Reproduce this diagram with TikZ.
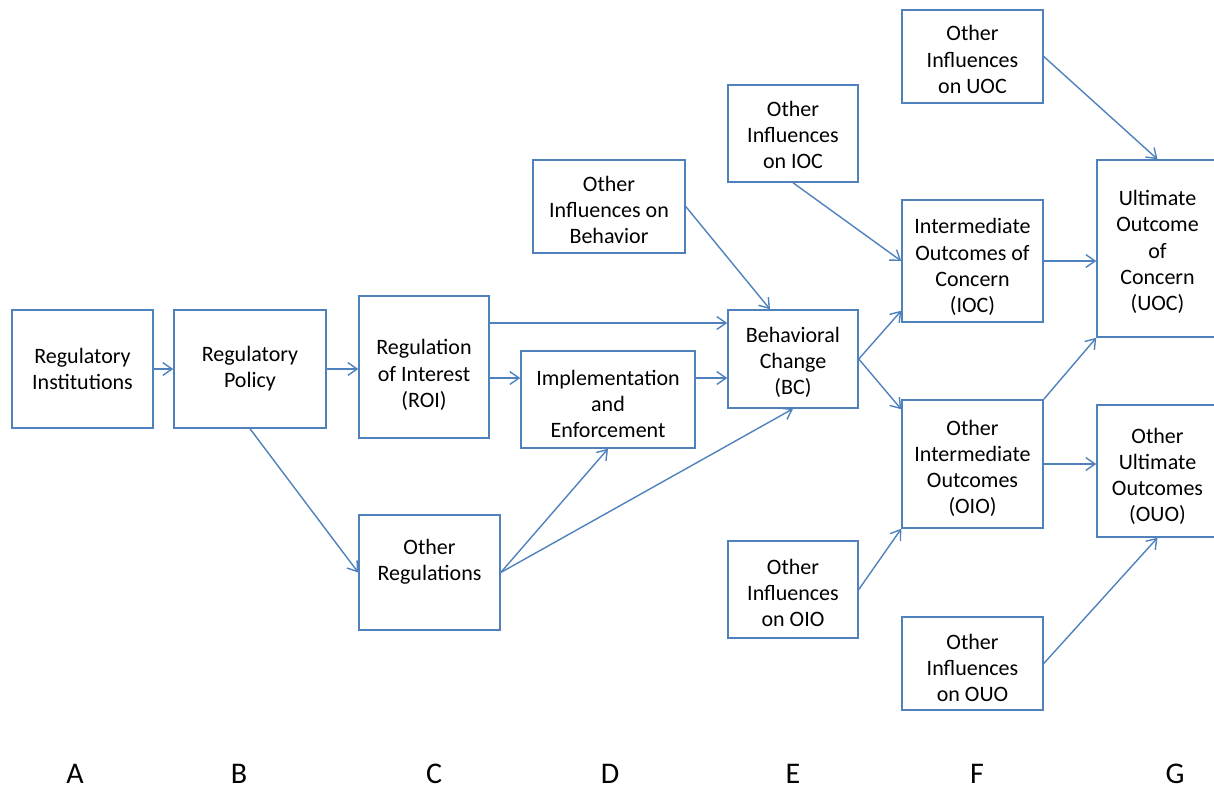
\documentclass[tikz,border=0pt]{standalone}
\usepackage{fontspec}
\setmainfont{Carlito}
\usetikzlibrary{arrows.meta}
\definecolor{lineblue}{HTML}{4F81BD}
\tikzset{
  box/.style={draw=lineblue, line width=0.75pt, fill=white, inner sep=0pt},
  boxtext/.style={align=center, inner sep=0pt, text=black,
    font=\fontsize{11pt}{13.1pt}\selectfont},
  link/.style={draw=lineblue, line width=0.7pt,
    -{Straight Barb[length=4.6pt,width=6.4pt,line width=0.7pt]}},
  colname/.style={anchor=base, font=\fontsize{15pt}{18pt}\selectfont, text=black}
}
\begin{document}
\begin{tikzpicture}[x=0.5pt, y=-0.5pt]
  \useasboundingbox (0,0) rectangle (1214,788);

  % boxes
  \node[box, minimum width=70.5pt, minimum height=59pt] (ri) at (82.5,369) {};
  \node[box, minimum width=76pt, minimum height=59pt] (rp) at (250,369) {};
  \node[box, minimum width=65pt, minimum height=71pt] (roi) at (424,367) {};
  \node[box, minimum width=70.5pt, minimum height=57.5pt] (or) at (429.5,572.5) {};
  \node[box, minimum width=87pt, minimum height=48.5pt] (ie) at (608,399.5) {};
  \node[box, minimum width=76pt, minimum height=46.5pt] (oib) at (609,206.5) {};
  \node[box, minimum width=65pt, minimum height=49pt] (bc) at (793,359) {};
  \node[box, minimum width=65pt, minimum height=48.5pt] (oioc) at (793,133.5) {};
  \node[box, minimum width=65pt, minimum height=48.5pt] (oioio) at (793,589.5) {};
  \node[box, minimum width=70.5pt, minimum height=46.5pt] (oiuoc) at (972.5,56.5) {};
  \node[box, minimum width=70.5pt, minimum height=61pt] (ioc) at (972.5,261) {};
  \node[box, minimum width=70.5pt, minimum height=64pt] (oio) at (972.5,464) {};
  \node[box, minimum width=70.5pt, minimum height=46.5pt] (oiouo) at (972.5,663.5) {};
  \node[box, minimum width=60.5pt, minimum height=88.5pt] (uoc) at (1157.5,248.5) {};
  \node[box, minimum width=60.5pt, minimum height=66pt] (ouo) at (1157.5,471) {};

  % box texts
  \node[boxtext] (ri-t) at (82.5,369) {Regulatory\\Institutions};
  \node[boxtext] (rp-t) at (250,369) {Regulatory\\Policy};
  \node[boxtext] (roi-t) at (424,375) {Regulation\\of Interest\\(ROI)};
  \node[boxtext] (or-t) at (429.5,562) {Other\\Regulations};
  \node[boxtext] (ie-t) at (608,404) {Implementation\\and\\Enforcement};
  \node[boxtext] (oib-t) at (609,210) {Other\\Influences on\\Behavior};
  \node[boxtext] (bc-t) at (793,362.5) {Behavioral\\Change\\(BC)};
  \node[boxtext] (oioc-t) at (793,135) {Other\\Influences\\on IOC};
  \node[boxtext] (oioio-t) at (793,593) {Other\\Influences\\on OIO};
  \node[boxtext] (oiuoc-t) at (972.5,59.5) {Other\\Influences\\on UOC};
  \node[boxtext] (ioc-t) at (972.5,267) {Intermediate\\Outcomes of\\Concern\\(IOC)};
  \node[boxtext] (oio-t) at (972.5,468.5) {Other\\Intermediate\\Outcomes\\(OIO)};
  \node[boxtext] (oiouo-t) at (972.5,668) {Other\\Influences\\on OUO};
  \node[boxtext] (uoc-t) at (1157.5,252) {Ultimate\\Outcome\\of\\Concern\\(UOC)};
  \node[boxtext] (ouo-t) at (1157.5,476.5) {Other\\Ultimate\\Outcomes\\(OUO)};

  % connectors
  \draw[link] (ri.east) -- (rp.west);
  \draw[link] (rp.east) -- (rp.east -| roi.west);
  \draw[link] (rp.south) -- (or.west);
  \draw[link] ([yshift=22pt]roi.east) -- ([yshift=22pt]roi.east -| bc.west);
  \draw[link] ([yshift=10.75pt]ie.west -| roi.east) -- ([yshift=10.75pt]ie.west);
  \draw[link] ([yshift=10.75pt]ie.east) -- ([yshift=10.75pt]ie.east -| bc.west);
  \draw[link] (or.east) -- (ie.south);
  \draw[link] (or.east) -- (bc.south);
  \draw[link] (oib.east) -- ([xshift=-11.5pt]bc.north);
  \draw[link] (oioc.south) -- (ioc.west);
  \draw[link] (bc.east) -- ([yshift=6pt]ioc.south west);
  \draw[link] (bc.east) -- ([yshift=-5pt]oio.north west);
  \draw[link] (oioio.east) -- (oio.south west);
  \draw[link] (ioc.east) -- (ioc.east -| uoc.west);
  \draw[link] (oio.north east) -- (uoc.south west);
  \draw[link] (oio.east) -- (oio.east -| ouo.west);
  \draw[link] (oiuoc.east) -- (uoc.north);
  \draw[link] (oiouo.east) -- (ouo.south);

  % column letters
  \node[colname] (ca) at (75,783) {A};
  \node[colname] (cb) at (239,783) {B};
  \node[colname] (cc) at (434,783) {C};
  \node[colname] (cd) at (610,783) {D};
  \node[colname] (ce) at (793,783) {E};
  \node[colname] (cf) at (977,783) {F};
  \node[colname] (cg) at (1175,783) {G};
\end{tikzpicture}
\end{document}
